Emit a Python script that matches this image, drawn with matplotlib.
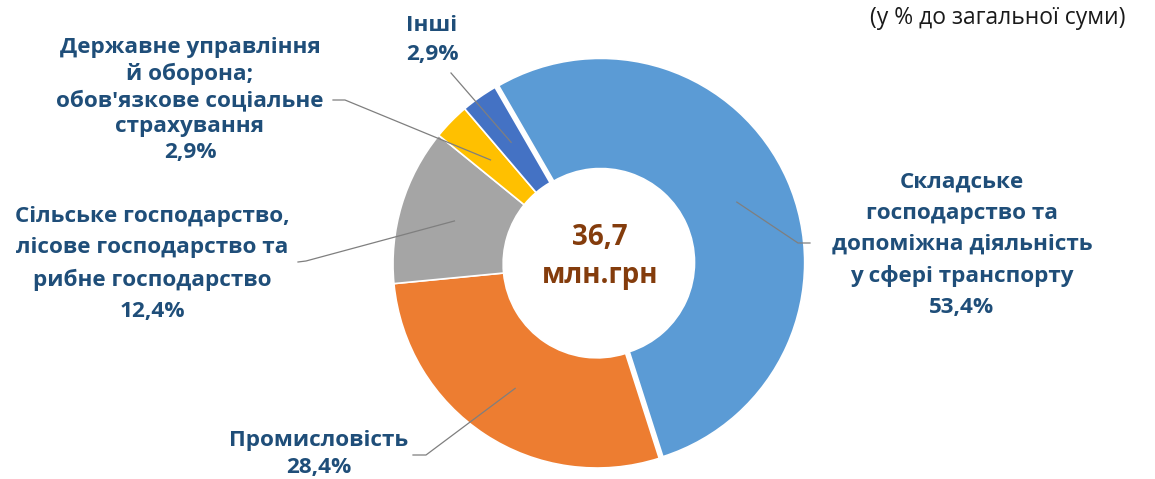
import numpy as np
import matplotlib
matplotlib.use("Agg")
import matplotlib.pyplot as plt

plt.rcParams["font.family"] = ["Open Sans", "DejaVu Sans"]

# ── дані ──────────────────────────────────────────────────────────────
categories = [
    "Складське\nгосподарство та\nдопоміжна діяльність\nу сфері транспорту",
    "Промисловість",
    "Сільське господарство,\nлісове господарство та\nрибне господарство",
    "Державне управління\nй оборона;\nобов'язкове соціальне\nстрахування",
    "Інші",
]
shares = [53.4, 28.4, 12.4, 2.9, 2.9]
total_value = "36,7"
total_unit = "млн.грн"
note = "(у % до загальної суми)"

COLORS = ["#5B9BD5", "#ED7D31", "#A5A5A5", "#FFC000", "#4472C4"]
TXT = "#1F4E79"
W, H = 1155, 479
CX, CY, R = 597, H - 264, 204

fig = plt.figure(figsize=(W / 100, H / 100), dpi=100)
ax = fig.add_axes([0, 0, 1, 1])

explode = [4 if i == 0 else 0 for i in range(len(shares))]
wedges, _ = ax.pie(shares, colors=COLORS, startangle=120, counterclock=False,
                   explode=explode, radius=R, center=(CX, CY),
                   wedgeprops=dict(width=R * 0.54, edgecolor="white", linewidth=1.2))
ax.set_xlim(0, W)
ax.set_ylim(0, H)
ax.set_aspect("equal")
ax.axis("off")

# підписи: (x, y центру блоку в пікселях, міжрядковий інтервал, точки виносної лінії)
label_pos = [
    (962, 245, 1.63, [(810, 243), (798, 243)]),
    (319, 454, 1.39, [(413, 455), (426, 455)]),
    (152, 264, 1.62, [(298, 262), (306, 261)]),
    (190, 100, 1.28, [(333, 100), (345, 100)]),
    (432, 40,  1.48, [(451, 73)]),
]

for w, name, v, (tx, ty, ls, pts) in zip(wedges, categories, shares, label_pos):
    pct = f"{v:.1f}".replace(".", ",") + "%"
    ax.text(tx, H - ty, name + "\n" + pct, ha="center", va="center",
            multialignment="center", fontsize=16.2, fontweight="bold",
            color=TXT, linespacing=ls)
    th = np.deg2rad((w.theta1 + w.theta2) / 2)
    ox, oy = w.center
    ax_x = ox + 0.73 * R * np.cos(th)
    ax_y = oy + 0.73 * R * np.sin(th)
    xs = [p[0] for p in pts] + [ax_x]
    ys = [H - p[1] for p in pts] + [ax_y]
    ax.plot(xs, ys, color="#7F7F7F", lw=0.9, zorder=5)

ax.text(CX + 3, H - 237, total_value, ha="center", va="center",
        fontsize=20, fontweight="bold", color="#843C0C")
ax.text(CX + 3, H - 275, total_unit, ha="center", va="center",
        fontsize=20, fontweight="bold", color="#843C0C")

ax.text(1125, H - 18, note, ha="right", va="center", fontsize=16.5, color="#1A1A1A")

fig.savefig("out.png", dpi=100, facecolor="white")
